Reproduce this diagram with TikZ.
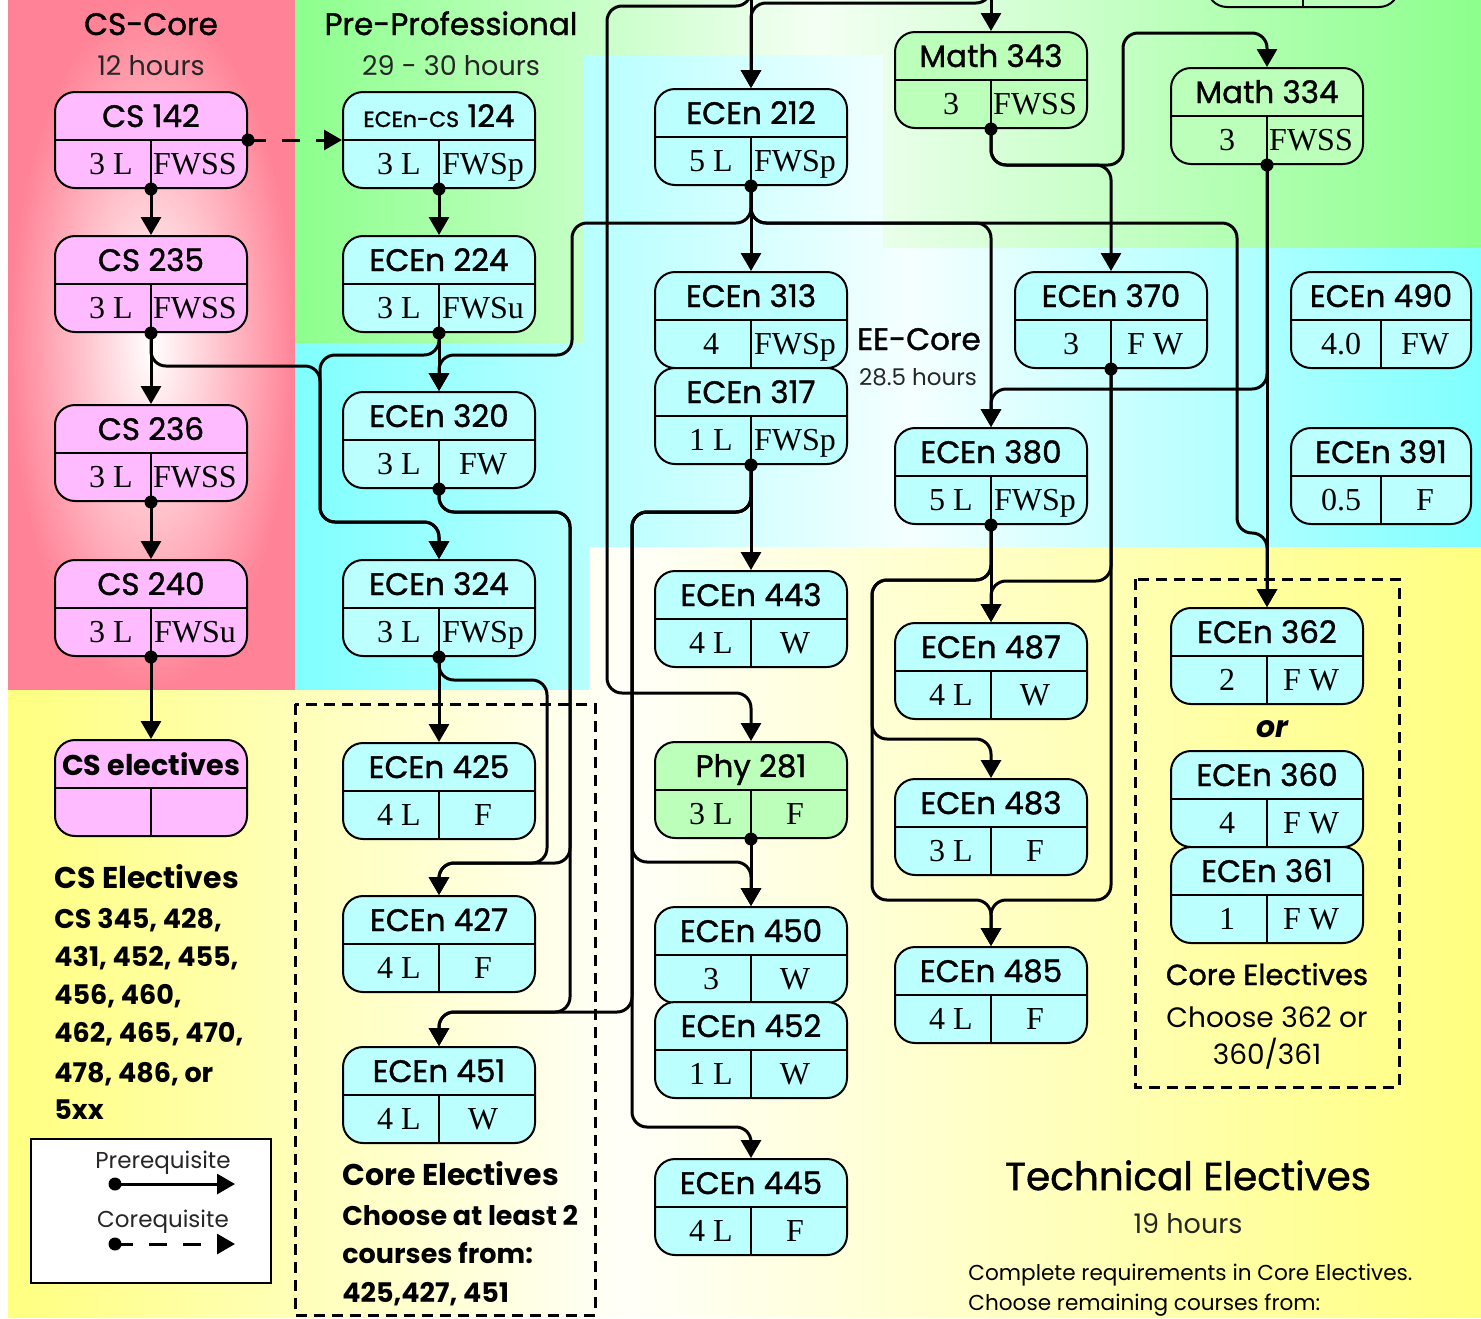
\documentclass[tikz,border=0pt]{standalone}
\usepackage{fontspec}
\setmainfont{Liberation Serif}
\newfontfamily\comic{Poppins}
\newfontfamily\comicb{Poppins}[FakeBold=1.2]
\usetikzlibrary{arrows.meta,calc}

\definecolor{csred}{RGB}{255,130,150}
\definecolor{bggreen}{RGB}{140,255,140}
\definecolor{bgcyan}{RGB}{128,255,255}
\definecolor{bgyellow}{RGB}{255,255,128}
\definecolor{pinkbox}{RGB}{255,187,255}
\definecolor{cyanbox}{RGB}{187,255,255}
\definecolor{greenbox}{RGB}{187,255,187}

% background glows
\pgfdeclareradialshading{redglow}{\pgfpoint{0bp}{0bp}}{color(0bp)=(white); color(25bp)=(csred); color(50bp)=(csred)}
\pgfdeclarehorizontalshading{greenglow}{100bp}{color(0bp)=(bggreen); color(25bp)=(bggreen); color(47bp)=(white!90!bggreen); color(75bp)=(bggreen); color(100bp)=(bggreen)}
\pgfdeclarehorizontalshading{cyanglow}{100bp}{color(0bp)=(bgcyan); color(25bp)=(bgcyan); color(51bp)=(white!92!bgcyan); color(75bp)=(bgcyan); color(100bp)=(bgcyan)}
\pgfdeclarehorizontalshading{yellowglow}{100bp}{color(0bp)=(bgyellow); color(25bp)=(bgyellow); color(46bp)=(white!95!bgyellow); color(75bp)=(bgyellow); color(100bp)=(bgyellow)}

\tikzset{
  box/.style={draw, line width=1pt, rounded corners=10pt, minimum width=96pt,
    minimum height=48pt, inner sep=0pt},
  ttl/.style={font=\comicb\fontsize{15.5}{15.5}\selectfont, inner sep=0pt},
  cell/.style={font=\fontsize{16}{16}\selectfont, inner sep=0pt},
  head/.style={font=\comicb\fontsize{15.5}{15.5}\selectfont, inner sep=0pt},
  hours/.style={font=\comic\fontsize{13.5}{13.5}\selectfont, text=black!85, inner sep=0pt},
  note/.style={font=\comic\bfseries\fontsize{13.5}{13.5}\selectfont, inner sep=0pt},
  pre/.style={line width=1.5pt, -{Triangle[width=10pt,length=9pt]}, rounded corners=7.5pt},
  coreq/.style={pre, dash pattern=on 9pt off 8pt},
  choice/.style={line width=1.5pt, dash pattern=on 5.5pt off 3.5pt},
}

% one course box: name, x, y, fill, title, credits, semesters
\newcommand{\course}[7]{%
  \node[box,#4] (#1) at (#2,#3) {};
  \draw[line width=1pt] (#1.west) -- (#1.east) (#1.center) -- (#1.south);
  \node[ttl,anchor=base] (#1-t) at ($(#1)+(0,-13)$) {#5};
  \node[cell,anchor=base] (#1-c) at ($(#1)+(-40,34)$) {#6};
  \node[cell,anchor=base] (#1-s) at ($(#1)+(44,34)$) {#7};
}

\begin{document}
\begin{tikzpicture}[x=0.5pt,y=-0.5pt]
\useasboundingbox (0,0) rectangle (1481,1318);
\clip (0,0) rectangle (1481,1318);

% regions
\shade[shading=redglow] (8,0) rectangle (295,690);
\shade[shading=greenglow] (295,0) -- (1481,0) -- (1481,248) -- (883,248) -- (883,55)
  -- (583,55) -- (583,343) -- (295,343) -- cycle;
\shade[shading=cyanglow] (295,343) -- (583,343) -- (583,55) -- (883,55) -- (883,248)
  -- (1481,248) -- (1481,547) -- (589,547) -- (589,690) -- (295,690) -- cycle;
\shade[shading=yellowglow] (8,690) -- (589,690) -- (589,547) -- (1481,547)
  -- (1481,1318) -- (8,1318) -- cycle;

% choice groups
\draw[choice] (295,704) rectangle (595,1315);
\draw[choice] (1135,579) rectangle (1399,1087);

% headings
\node[head,anchor=base] (cscore) at (151,35) {CS-Core};
\node[hours,anchor=base] (cshours) at (151,75) {12 hours};
\node[head,anchor=base] (prepro) at (451,35) {Pre-Professional};
\node[hours,anchor=base] (prohours) at (451,75) {29 - 30 hours};
\node[head,anchor=base] (eecore) at (919,350) {EE-Core};
\node[hours,anchor=base,font=\comic\fontsize{11.5}{11.5}\selectfont] (eehours) at (918,385) {28.5 hours};
\node[head,anchor=base,font=\comicb\fontsize{19.5}{19.5}\selectfont] (techel) at (1188,1190) {Technical Electives};
\node[hours,anchor=base] (techhours) at (1188,1233) {19 hours};
\node[anchor=base west,inner sep=0pt,font=\comic\fontsize{10.8}{10.8}\selectfont] (technote1) at (968,1280) {Complete requirements in Core Electives.};
\node[anchor=base west,inner sep=0pt,font=\comic\fontsize{10.8}{10.8}\selectfont] (technote2) at (968,1310) {Choose remaining courses from:};

% CS electives list
\node[note,anchor=base west,font=\comic\bfseries\fontsize{15}{15}\selectfont] (cselhead) at (54,888) {CS Electives};
\node[note,anchor=base west] (csel1) at (54,928) {CS 345, 428,};
\node[note,anchor=base west] (csel2) at (54,966) {431, 452, 455,};
\node[note,anchor=base west] (csel3) at (54,1004) {456, 460,};
\node[note,anchor=base west] (csel4) at (54,1042) {462, 465, 470,};
\node[note,anchor=base west] (csel5) at (54,1082) {478, 486, or};
\node[note,anchor=base west] (csel6) at (54,1119) {5xx};

% core electives notes
\node[note,anchor=base west,font=\comic\bfseries\fontsize{15}{15}\selectfont] (coreA) at (342,1185) {Core Electives};
\node[note,anchor=base west] (coreA1) at (342,1225) {Choose at least 2};
\node[note,anchor=base west] (coreA2) at (342,1263) {courses from:};
\node[note,anchor=base west] (coreA3) at (342,1302) {425,427, 451};
\node[head,anchor=base,font=\comicb\fontsize{14.5}{14.5}\selectfont] (coreB) at (1267,985) {Core Electives};
\node[head,anchor=base,font=\comic\fontsize{14}{14}\selectfont] (coreB1) at (1267,1027) {Choose 362 or};
\node[head,anchor=base,font=\comic\fontsize{14}{14}\selectfont] (coreB2) at (1267,1064) {360/361};
\node[note,anchor=base,font=\comic\bfseries\itshape\fontsize{15}{15}\selectfont] (ortxt) at (1272,737) {or};

% legend
\node[draw,fill=white,line width=0.8pt,minimum width=120pt,minimum height=72pt] (legend) at (151,1211) {};
\node[hours,anchor=base,font=\comic\fontsize{11.5}{11.5}\selectfont] (lpre) at (163,1168) {Prerequisite};
\node[hours,anchor=base,font=\comic\fontsize{11.5}{11.5}\selectfont] (lco) at (163,1227) {Corequisite};
\coordinate (pa) at (115,1184);
\coordinate (pb) at (235,1184);
\coordinate (ca) at (115,1244);
\coordinate (cb) at (235,1244);
\draw[pre] (pa) -- (pb);
\draw[coreq] (ca) -- (cb);

% CS core
\course{cs142}{151}{140}{fill=pinkbox}{CS 142}{3 L}{FWSS}
\course{cs235}{151}{284}{fill=pinkbox}{CS 235}{3 L}{FWSS}
\course{cs236}{151}{453}{fill=pinkbox}{CS 236}{3 L}{FWSS}
\course{cs240}{151}{608}{fill=pinkbox}{CS 240}{3 L}{FWSu}
\course{cselec}{151}{788}{fill=pinkbox}{\comic\bfseries\fontsize{14.3}{14.3}\selectfont CS electives}{}{}
% pre-professional and EE core
\course{ecen124}{439}{140}{fill=cyanbox}{{\fontsize{11}{11}\selectfont ECEn-CS} 124}{3 L}{FWSp}
\course{ecen224}{439}{284}{fill=cyanbox}{ECEn 224}{3 L}{FWSu}
\course{ecen320}{439}{440}{fill=cyanbox}{ECEn 320}{3 L}{FW}
\course{ecen324}{439}{608}{fill=cyanbox}{ECEn 324}{3 L}{FWSp}
\course{ecen212}{751}{137}{fill=cyanbox}{ECEn 212}{5 L}{FWSp}
\course{ecen313}{751}{320}{fill=cyanbox}{ECEn 313}{4}{FWSp}
\course{ecen317}{751}{416}{fill=cyanbox}{ECEn 317}{1 L}{FWSp}
\course{math343}{991}{80}{fill=greenbox}{Math 343}{3}{FWSS}
\course{math334}{1267}{116}{fill=greenbox}{Math 334}{3}{FWSS}
\course{mathtop}{1303}{-41}{fill=greenbox}{}{}{}
\course{ecen370}{1111}{320}{fill=cyanbox}{ECEn 370}{3}{F W}
\course{ecen380}{991}{476}{fill=cyanbox}{ECEn 380}{5 L}{FWSp}
\course{ecen490}{1381}{320}{fill=cyanbox,minimum width=90pt}{ECEn 490}{4.0}{FW}
\course{ecen391}{1381}{476}{fill=cyanbox,minimum width=90pt}{ECEn 391}{0.5}{F}
% technical electives
\course{ecen425}{439}{791}{fill=cyanbox}{ECEn 425}{4 L}{F}
\course{ecen427}{439}{944}{fill=cyanbox}{ECEn 427}{4 L}{F}
\course{ecen451}{439}{1095}{fill=cyanbox}{ECEn 451}{4 L}{W}
\course{ecen443}{751}{619}{fill=cyanbox}{ECEn 443}{4 L}{W}
\course{phy281}{751}{790}{fill=greenbox}{Phy 281}{3 L}{F}
\course{ecen450}{751}{955}{fill=cyanbox}{ECEn 450}{3}{W}
\course{ecen452}{751}{1050}{fill=cyanbox}{ECEn 452}{1 L}{W}
\course{ecen445}{751}{1207}{fill=cyanbox}{ECEn 445}{4 L}{F}
\course{ecen487}{991}{671}{fill=cyanbox}{ECEn 487}{4 L}{W}
\course{ecen483}{991}{827}{fill=cyanbox}{ECEn 483}{3 L}{F}
\course{ecen485}{991}{995}{fill=cyanbox}{ECEn 485}{4 L}{F}
\course{ecen362}{1267}{656}{fill=cyanbox}{ECEn 362}{2}{F W}
\course{ecen360}{1267}{799}{fill=cyanbox}{ECEn 360}{4}{F W}
\course{ecen361}{1267}{895}{fill=cyanbox}{ECEn 361}{1}{F W}

% courses above the picture
\coordinate (topA) at (751,-40);
\coordinate (topB) at (991,-40);

% prerequisites
\draw[pre] (topA) -- (ecen212.north);
\draw[pre] (topA) |- (607,6) -- (607,693) -| (phy281.north);
\draw[pre] (topB) -- (math343.north);
\draw[pre] (topB) |- (751,3) -- (ecen212.north);
\draw[pre] (cs142.south) -- (cs235.north);
\draw[coreq] (cs142.east) -- (ecen124.west);
\draw[pre] (cs235.south) -- (cs236.north);
\draw[pre] (cs236.south) -- (cs240.north);
\draw[pre] (cs240.south) -- (cselec.north);
\draw[pre] (cs235.south) |- (320,366) -- (320,522) -| (ecen324.north);
\draw[pre] (ecen124.south) -- (ecen224.north);
\draw[pre] (ecen224.south) -- (ecen320.north);
\draw[pre] (ecen224.south) |- (320,355) -- (320,522) -| (ecen324.north);
\draw[pre] (ecen212.south) |- (572,223) -- (572,355) -| (ecen320.north);
\draw[pre] (ecen212.south) -- (ecen313.north);
\draw[pre] (ecen212.south) -- (751,223) -| (ecen380.north);
\draw[pre] (ecen212.south) -- (751,223) -- (1237,223) -- (1237,533) -| (ecen362.north);
\draw[pre] (ecen320.south) |- (570,512) -- (570,863) -| (ecen427.north);
\draw[pre] (ecen320.south) |- (570,512) -- (570,1012) -| (ecen451.north);
\draw[pre] (ecen324.south) -- (ecen425.north);
\draw[pre] (ecen324.south) |- (547,680) -- (547,863) -| (ecen427.north);
\draw[pre] (ecen317.south) -- (ecen443.north);
\draw[pre] (ecen317.south) |- (632,512) -- (632,862) -| (ecen450.north);
\draw[pre] (ecen317.south) |- (632,512) -- (632,1012) -| (ecen451.north);
\draw[pre] (ecen317.south) |- (632,512) -- (632,1127) -| (ecen445.north);
\draw[pre] (phy281.south) -- (ecen450.north);
\draw[pre] (math343.south) |- (1111,165) -- (ecen370.north);
\draw[pre] (math343.south) |- (1123,165) -- (1123,33) -| (math334.north);
\draw[pre] (math334.south) -- (ecen362.north);
\draw[pre] (math334.south) |- (991,389) -- (ecen380.north);
\draw[pre] (ecen370.south) |- (991,581) -- (ecen487.north);
\draw[pre] (ecen370.south) |- (991,900) -- (ecen485.north);
\draw[pre] (ecen380.south) -- (ecen487.north);
\draw[pre] (ecen380.south) |- (872,580) -- (872,739) -| (ecen483.north);
\draw[pre] (ecen380.south) |- (872,580) -- (872,900) -| (ecen485.north);

% dots where prerequisites leave
\foreach \n in {cs142,cs235,cs236,cs240,ecen124,ecen224,ecen320,ecen324,
  ecen212,ecen317,phy281,math343,math334,ecen370,ecen380}
  \fill (\n.south) circle (3.25pt);
\fill (cs142.east) circle (3.25pt);
\fill (pa) circle (3.25pt);
\fill (ca) circle (3.25pt);
\end{tikzpicture}
\end{document}
